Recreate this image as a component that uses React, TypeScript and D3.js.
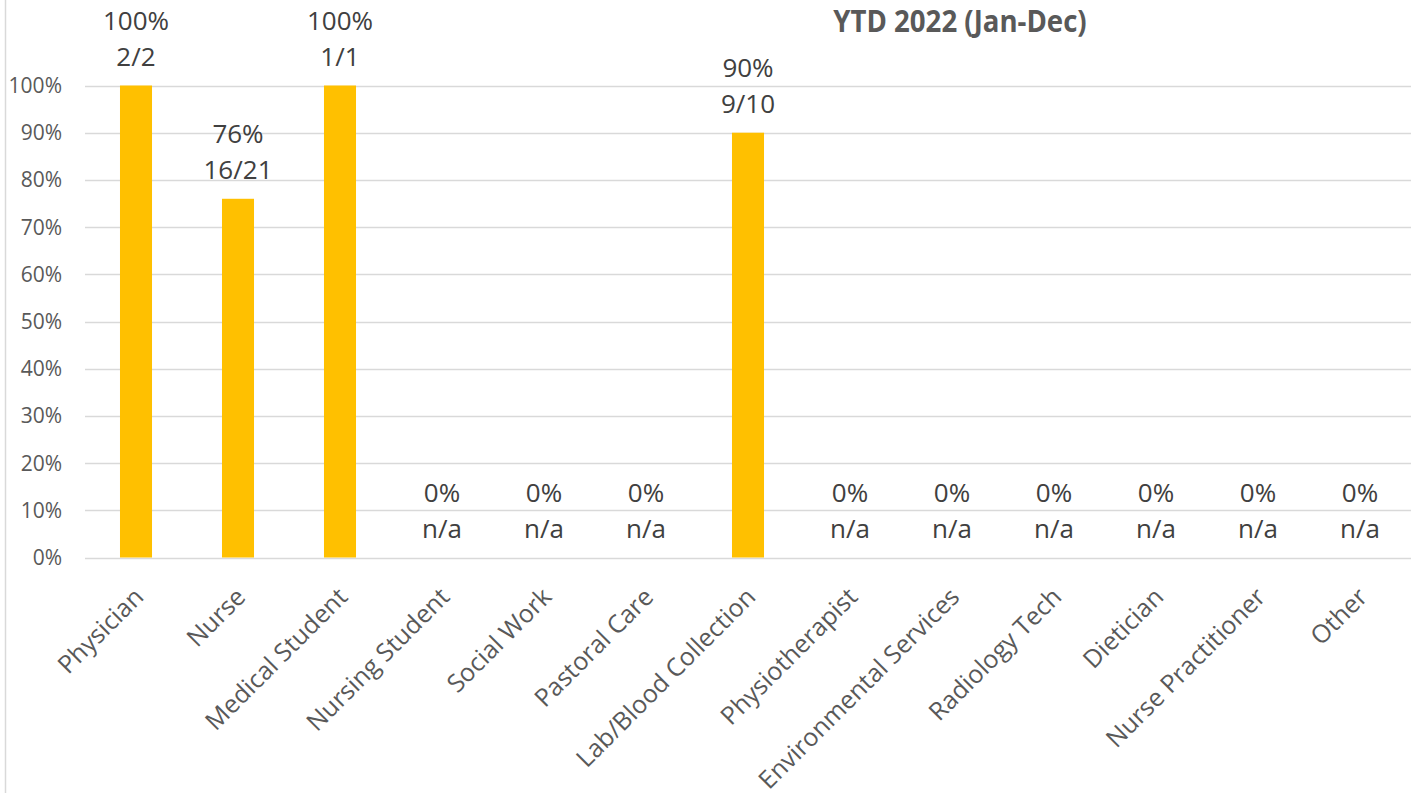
import React from "react";
import * as d3 from "d3";

const categories = [
  "Physician", "Nurse", "Medical Student", "Nursing Student", "Social Work",
  "Pastoral Care", "Lab/Blood Collection", "Physiotherapist", "Environmental Services",
  "Radiology Tech", "Dietician", "Nurse Practitioner", "Other",
];
const values = [1, 0.76, 1, 0, 0, 0, 0.9, 0, 0, 0, 0, 0, 0];
const pctLabels = ["100%", "76%", "100%", "0%", "0%", "0%", "90%", "0%", "0%", "0%", "0%", "0%", "0%"];
const countLabels = ["2/2", "16/21", "1/1", "n/a", "n/a", "n/a", "9/10", "n/a", "n/a", "n/a", "n/a", "n/a", "n/a"];
const yTicks = [0, 0.1, 0.2, 0.3, 0.4, 0.5, 0.6, 0.7, 0.8, 0.9, 1];
const title = "YTD 2022 (Jan-Dec)";

const W = 1414, H = 793;
const left = 85, right = 1411, top = 85.5, bottom = 557.5;
const FONT = "'Open Sans', sans-serif";

export default function App() {
  const x = d3.scaleBand<string>().domain(categories).range([left, right]).paddingInner(0.686).paddingOuter(0.343);
  const y = d3.scaleLinear().domain([0, 1]).range([bottom, top]);
  const fmt = d3.format(".0%");
  return (
    <svg width={W} height={H} style={{ position: "absolute", left: 0, top: 0, background: "#fff" }} fontFamily={FONT}>
      <line x1={5.5} x2={5.5} y1={0} y2={H} stroke="#d9d9d9" strokeWidth={1.5} />
      {yTicks.map((t) => (
        <g key={t}>
          <line x1={left} x2={right} y1={Math.round(y(t)) + 0.5} y2={Math.round(y(t)) + 0.5} stroke="#d9d9d9" strokeWidth={1.5} />
          <text x={62} y={y(t)} dy="0.36em" textAnchor="end" fontSize={21} fill="#595959">{fmt(t)}</text>
        </g>
      ))}
      {categories.map((c, i) => (
        <g key={c}>
          <rect x={x(c)} y={y(values[i])} width={x.bandwidth()} height={bottom - y(values[i])} fill="#FFC000" />
          <text x={x(c)! + x.bandwidth() / 2} y={y(values[i]) - 20 - 36} textAnchor="middle" fontSize={26} fill="#404040">{pctLabels[i]}</text>
          <text x={x(c)! + x.bandwidth() / 2} y={y(values[i]) - 20} textAnchor="middle" fontSize={26} fill="#404040">{countLabels[i]}</text>
          <text transform={`translate(${x(c)! + x.bandwidth() / 2 + 9},${bottom + 41}) rotate(-45)`} textAnchor="end" fontSize={25} fill="#595959">{c}</text>
        </g>
      ))}
      <text transform="translate(960,32) scale(0.89,1)" textAnchor="middle" fontSize={31} fontWeight="bold" fill="#595959">{title}</text>
    </svg>
  );
}
